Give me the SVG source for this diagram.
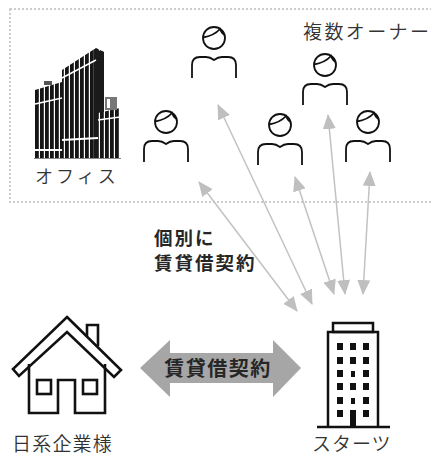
<svg xmlns="http://www.w3.org/2000/svg" width="431" height="455" viewBox="0 0 431 455">
  <style>
    .label { font-family: "Noto Sans CJK JP", "Noto Sans", sans-serif; fill: #333; font-weight: 350; }
    .bold { font-family: "Noto Sans CJK JP", "Noto Sans", sans-serif; fill: #262626; font-weight: 700; }
    .icon { fill: none; stroke: #111; stroke-linejoin: miter; stroke-linecap: butt; }
    .link { stroke: #c2c2c2; stroke-width: 1.5; fill: none; marker-start: url(#head); marker-end: url(#head); }
    .win { fill: #111; }
  </style>
  <defs>
    <marker id="head" viewBox="0 0 15 13" refX="14" refY="6.5" markerWidth="15" markerHeight="13" markerUnits="userSpaceOnUse" orient="auto-start-reverse">
      <path d="M0,0 L15,6.5 L0,13 z" fill="#bfbfbf"/>
    </marker>
    <symbol id="person" viewBox="-24 -14 48 56" width="48" height="56" overflow="visible">
      <circle cx="0" cy="0" r="11" class="icon" stroke-width="1.8"/>
      <path d="M-11,-0.5 C-5,-1.5 2,-4.5 6,-9 C7,-6 9,-4 11,-3" class="icon" stroke-width="1.8" stroke-linejoin="round"/>
      <path d="M-22,40 V27 Q-22,19 -14,19 H-8 Q-4,19 0,22 Q4,19 8,19 H14 Q22,19 22,27 V40" class="icon" stroke-width="1.8" stroke-linejoin="round"/>
    </symbol>
    <pattern id="stripes" width="5" height="10" patternUnits="userSpaceOnUse">
      <rect width="5" height="10" fill="#fff"/>
      <rect width="3.8" height="10" fill="#151515"/>
    </pattern>
  </defs>

  <!-- owners' area frame -->
  <rect x="10" y="9" width="430" height="193" fill="none" stroke="#bdbdbd" stroke-width="1.5" stroke-dasharray="2 2"/>

  <!-- office tower -->
  <g id="office">
    <polygon points="35,90 62,82 62,158 35,158" fill="url(#stripes)"/>
    <rect x="44" y="81" width="8" height="4" fill="#555"/>
    <polygon points="62,70 96,48 104,52 104,158 62,158" fill="url(#stripes)"/>
    <polygon points="94,49 104,52 104,158 94,158" fill="#1a1a1a"/>
    <polygon points="98,113 120,108 120,158 98,158" fill="url(#stripes)"/>
    <rect x="105" y="97" width="12" height="13" fill="#777"/>
    <rect x="107" y="99" width="3" height="9" fill="#fff"/>
    <line x1="35" y1="104" x2="62" y2="98" stroke="#fff" stroke-width="1.5"/>
    <line x1="62" y1="78" x2="96" y2="60" stroke="#fff" stroke-width="1.5"/>
    <line x1="35" y1="150" x2="62" y2="150" stroke="#fff" stroke-width="2"/>
    <line x1="62" y1="140" x2="98" y2="138" stroke="#fff" stroke-width="2"/>
    <line x1="98" y1="120" x2="120" y2="117" stroke="#fff" stroke-width="1.5"/>
    <line x1="34" y1="158.5" x2="121" y2="158.5" stroke="#888" stroke-width="1"/>
    <text x="35" y="183" class="label" font-size="18" letter-spacing="3">オフィス</text>
  </g>

  <!-- owners -->
  <g id="owners-label">
    <text x="303" y="39" class="label" font-size="19" letter-spacing="2.4">複数オーナー</text>
  </g>
  <g id="owner-1"><use href="#person" x="190" y="24"/></g>
  <g id="owner-2"><use href="#person" x="301" y="51"/></g>
  <g id="owner-3"><use href="#person" x="142" y="108"/></g>
  <g id="owner-4"><use href="#person" x="256" y="111"/></g>
  <g id="owner-5"><use href="#person" x="344" y="108"/></g>

  <!-- individual lease links -->
  <g id="connectors">
    <line class="link" x1="199" y1="182" x2="297" y2="311"/>
    <line class="link" x1="218" y1="105" x2="312" y2="304"/>
    <line class="link" x1="295" y1="177" x2="334" y2="294"/>
    <line class="link" x1="328" y1="115" x2="345" y2="294"/>
    <line class="link" x1="370" y1="172" x2="363" y2="294"/>
  </g>

  <g id="individual-label">
    <text x="154" y="245" class="bold" font-size="18.5" letter-spacing="2">個別に</text>
    <text x="154" y="270" class="bold" font-size="18.5" letter-spacing="2">賃貸借契約</text>
  </g>

  <!-- main lease arrow -->
  <g id="lease">
    <polygon points="140,368 170,340 170,353 273,353 273,340 301,368 273,397 273,383 170,383 170,397" fill="#a6a6a6"/>
    <text x="218" y="376" class="bold" font-size="20" letter-spacing="1.5" text-anchor="middle">賃貸借契約</text>
  </g>

  <!-- client house -->
  <g id="client">
    <polygon points="67,317 121,370 114,377 67,332 19,376 13,369" class="icon" stroke-width="2.6"/>
    <path d="M87,336 V325 H98 V346" class="icon" stroke-width="2.6"/>
    <path d="M29,364 V413 H58 V380 H75 V413 H105 V364" class="icon" stroke-width="2.6"/>
    <rect x="37" y="380" width="14" height="14" class="icon" stroke-width="2.6"/>
    <rect x="83" y="380" width="14" height="14" class="icon" stroke-width="2.6"/>
    <text x="12" y="451" class="label" font-size="19" letter-spacing="1.2">日系企業様</text>
  </g>

  <!-- Starts building -->
  <g id="starts">
    <rect x="333" y="323" width="40" height="9" class="icon" stroke-width="2.5"/>
    <path d="M328,427 V332 H378 V427" class="icon" stroke-width="2.5"/>
    <line x1="317" y1="427" x2="390" y2="427" stroke="#111" stroke-width="2.5"/>
    <rect class="win" x="337" y="343" width="6" height="7"/>
    <rect class="win" x="350" y="343" width="6" height="7"/>
    <rect class="win" x="363" y="343" width="6" height="7"/>
    <rect class="win" x="337" y="357" width="6" height="7"/>
    <rect class="win" x="350" y="357" width="6" height="7"/>
    <rect class="win" x="363" y="357" width="6" height="7"/>
    <rect class="win" x="337" y="370" width="6" height="7"/>
    <rect class="win" x="351" y="371" width="4" height="6"/>
    <rect class="win" x="363" y="370" width="6" height="7"/>
    <rect class="win" x="337" y="383" width="6" height="7"/>
    <rect class="win" x="350" y="383" width="6" height="7"/>
    <rect class="win" x="363" y="383" width="6" height="7"/>
    <rect class="win" x="337" y="397" width="6" height="7"/>
    <rect class="win" x="351" y="398" width="4" height="6"/>
    <rect class="win" x="363" y="397" width="6" height="7"/>
    <rect class="win" x="337" y="410" width="6" height="7"/>
    <rect class="win" x="350" y="410" width="6" height="17"/>
    <rect class="win" x="363" y="410" width="6" height="7"/>
    <text x="312" y="451" class="label" font-size="19" letter-spacing="1">スターツ</text>
  </g>
</svg>
